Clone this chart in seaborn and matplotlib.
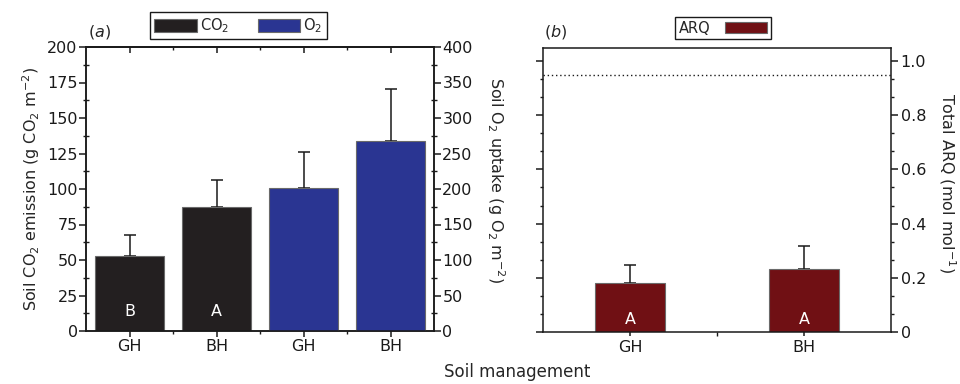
import numpy as np
import pandas as pd
import matplotlib
matplotlib.use("Agg")
import matplotlib.pyplot as plt
from matplotlib.patches import Patch
from matplotlib.ticker import MultipleLocator, FixedLocator, AutoMinorLocator
import seaborn as sns

# ---------------- data ----------------
bar_ids = ["CO2-GH", "CO2-BH", "O2-GH", "O2-BH"]
bar_labels = ["GH", "BH", "GH", "BH"]
co2_ids = ["CO2-GH", "CO2-BH"]
co2_values = [52.5, 87.0]          # g CO2 m-2 (left axis)
co2_err = [15.0, 19.5]
o2_ids = ["O2-GH", "O2-BH"]
o2_values = [202.0, 267.0]         # g O2 m-2 (right axis)
o2_err = [50.0, 74.0]
letters_a = ["B", "A", "A", "A"]

arq_ids = ["GH", "BH"]
arq_values = [0.180, 0.231]
arq_err = [0.069, 0.088]
letters_b = ["A", "A"]
arq_ref = 0.95

C_CO2 = "#231f20"
C_O2 = "#2a3592"
C_ARQ = "#701014"
EDGE = "#6a6a6a"
INK = "#1a1a1a"

sns.set_style("ticks")
plt.rcParams["font.family"] = ["DejaVu Sans"]
plt.rcParams["mathtext.fontset"] = "dejavusans"
plt.rcParams["mathtext.default"] = "regular"
plt.rcParams["axes.linewidth"] = 1.1
plt.rcParams["axes.edgecolor"] = INK

FS = 11.5

fig = plt.figure(figsize=(9.6, 3.84), dpi=100)
W, H = 960, 384
axa = fig.add_axes([86 / W, 1 - 331 / H, 348 / W, 284 / H])
axb = fig.add_axes([543 / W, 1 - 332 / H, 348 / W, 284 / H])

# ---------------- panel a ----------------
df_co2 = pd.DataFrame({"id": co2_ids, "val": co2_values})
df_o2 = pd.DataFrame({"id": o2_ids, "val": o2_values})

axa.errorbar([bar_ids.index(i) for i in co2_ids], co2_values,
             yerr=[np.zeros(len(co2_err)), co2_err], fmt="none",
             ecolor=INK, elinewidth=1.1, capsize=4.5, capthick=1.1, zorder=1)
sns.barplot(data=df_co2, x="id", y="val", order=bar_ids, ax=axa,
            color=C_CO2, saturation=1, width=0.8, edgecolor=EDGE, linewidth=0.8,
            errorbar=None, zorder=2)
axa.set_ylim(0, 200)
axa.set_xlim(-0.5, 3.5)

ax2 = axa.twinx()
ax2.errorbar([bar_ids.index(i) for i in o2_ids], o2_values,
             yerr=[np.zeros(len(o2_err)), o2_err], fmt="none",
             ecolor=INK, elinewidth=1.1, capsize=4.5, capthick=1.1, zorder=1)
sns.barplot(data=df_o2, x="id", y="val", order=bar_ids, ax=ax2,
            color=C_O2, saturation=1, width=0.8, edgecolor=EDGE, linewidth=0.8,
            errorbar=None, zorder=2)
ax2.set_ylim(0, 400)
ax2.set_xlim(-0.5, 3.5)

for i, letter in enumerate(letters_a):
    axa.text(i, 13.5 if i < 2 else 15, letter, color="white", ha="center",
             va="center", fontsize=FS, zorder=10)

axa.set_xticks(range(len(bar_ids)))
axa.set_xticklabels(bar_labels, fontsize=FS)
axa.xaxis.set_minor_locator(FixedLocator([0.5, 1.5, 2.5]))
axa.set_xlabel("")
axa.set_ylabel("Soil CO$_2$ emission (g CO$_2$ m$^{-2}$)", fontsize=FS, labelpad=4)
ax2.set_ylabel("")
ax2.set_xlabel("")
axa.yaxis.set_major_locator(MultipleLocator(25))
axa.yaxis.set_minor_locator(MultipleLocator(12.5))
ax2.yaxis.set_major_locator(MultipleLocator(50))
ax2.yaxis.set_minor_locator(MultipleLocator(25))
axa.tick_params(axis="y", which="major", direction="out", length=5, width=1.1,
                labelsize=FS, pad=1, colors=INK)
axa.tick_params(axis="y", which="minor", direction="inout", length=4, width=1.0, colors=INK)
ax2.tick_params(axis="y", which="major", direction="out", length=5, width=1.1,
                labelsize=FS, pad=1, colors=INK)
ax2.tick_params(axis="y", which="minor", direction="inout", length=4, width=1.0, colors=INK)
axa.tick_params(axis="x", which="major", direction="out", length=4, width=1.1,
                labelsize=FS, pad=1.5, top=False, colors=INK)
axa.tick_params(axis="x", which="minor", direction="out", length=2.5, width=1.0,
                top=False, colors=INK)
# inward ticks along the top spine
sec = axa.secondary_xaxis("top")
sec.set_xticks(range(len(bar_ids)))
sec.xaxis.set_minor_locator(FixedLocator([0.5, 1.5, 2.5]))
sec.tick_params(axis="x", which="major", direction="in", length=4.5, width=1.1,
                labeltop=False, colors=INK)
sec.tick_params(axis="x", which="minor", direction="in", length=2.5, width=1.0, colors=INK)
sec.spines["top"].set_linewidth(1.1)
sec.spines["top"].set_color(INK)
for a in (axa, ax2):
    for s in a.spines.values():
        s.set_visible(True)
        s.set_linewidth(1.1)
        s.set_color(INK)

fig.text(496 / W, 1 - 180 / H, "Soil O$_2$ uptake (g O$_2$ m$^{-2}$)",
         rotation=270, ha="center", va="center", fontsize=FS)

fig.text(88 / W, 1 - 32 / H, "($\\mathit{a}$)", ha="left", va="center", fontsize=FS)

leg_a = fig.legend(handles=[Patch(facecolor=C_CO2, edgecolor=EDGE, linewidth=0.8),
                            Patch(facecolor=C_O2, edgecolor=EDGE, linewidth=0.8)],
                   labels=["CO$_2$", "O$_2$"], ncol=2, loc="upper left",
                   bbox_to_anchor=(150 / W, 1 - 12 / H), fontsize=FS - 1,
                   frameon=True, fancybox=False, edgecolor=INK, framealpha=1,
                   handlelength=2.9, handleheight=0.95, handletextpad=0.2,
                   columnspacing=2.0, borderpad=0.3, borderaxespad=0)
leg_a.get_frame().set_linewidth(1.0)

# ---------------- panel b ----------------
df_arq = pd.DataFrame({"id": arq_ids, "val": arq_values})
axb.errorbar(range(len(arq_ids)), arq_values,
             yerr=[np.zeros(len(arq_err)), arq_err], fmt="none",
             ecolor=INK, elinewidth=1.1, capsize=4.5, capthick=1.1, zorder=1)
sns.barplot(data=df_arq, x="id", y="val", order=arq_ids, ax=axb,
            color=C_ARQ, saturation=1, width=0.4, edgecolor=EDGE, linewidth=0.8,
            errorbar=None, zorder=2)
axb.axhline(arq_ref, color=INK, ls=(0, (1, 2)), lw=1.0)
axb.set_xlim(-0.5, 1.5)
axb.set_ylim(0, 1.048)
for i, letter in enumerate(letters_b):
    axb.text(i, 0.045, letter, color="white", ha="center", va="center",
             fontsize=FS, zorder=10)
axb.set_xlabel("")
axb.set_ylabel("")
axb.xaxis.set_minor_locator(FixedLocator([0.5]))
axb.tick_params(axis="x", which="major", direction="out", length=3, width=1.1,
                labelsize=FS, pad=2.5, colors=INK)
axb.tick_params(axis="x", which="minor", direction="out", length=3, width=1.0, colors=INK)
axb.yaxis.set_major_locator(MultipleLocator(0.2))
axb.yaxis.set_minor_locator(AutoMinorLocator(3))
axb.yaxis.set_major_formatter(plt.FuncFormatter(lambda v, p: "0" if abs(v) < 1e-9 else f"{v:.1f}"))
axb.tick_params(axis="y", which="both", left=True, right=True,
                labelleft=False, labelright=True, colors=INK)
axb.tick_params(axis="y", which="major", direction="out", length=5, width=1.1,
                labelsize=FS, pad=2)
axb.tick_params(axis="y", which="minor", direction="out", length=2.5, width=1.0)
for s in axb.spines.values():
    s.set_visible(True)
    s.set_linewidth(1.1)
    s.set_color(INK)

fig.text(947 / W, 1 - 183 / H, "Total ARQ (mol mol$^{-1}$)", rotation=270,
         ha="center", va="center", fontsize=FS)
fig.text(544 / W, 1 - 32 / H, "($\\mathit{b}$)", ha="left", va="center", fontsize=FS)

leg_b = fig.legend(handles=[Patch(facecolor=C_ARQ, edgecolor=EDGE, linewidth=0.8)],
                   labels=["ARQ"], loc="upper left", markerfirst=False,
                   bbox_to_anchor=(675 / W, 1 - 17 / H), fontsize=FS - 1,
                   frameon=True, fancybox=False, edgecolor=INK, framealpha=1,
                   handlelength=2.9, handleheight=0.85, handletextpad=1.0,
                   borderpad=0.25, borderaxespad=0)
leg_b.get_frame().set_linewidth(1.0)

fig.text(517 / W, 1 - 372 / H, "Soil management", ha="center", va="center", fontsize=FS + 0.5)

fig.savefig("out.png", dpi=100)
